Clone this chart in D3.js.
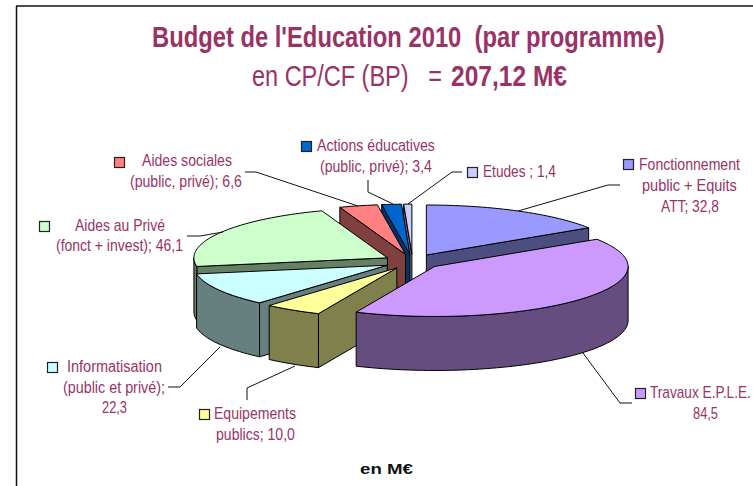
<!DOCTYPE html>
<html><head><meta charset="utf-8">
<script src="https://cdn.jsdelivr.net/npm/d3@7"></script>
<style>html,body{margin:0;padding:0;background:#fff}svg{display:block}text{font-family:"Liberation Sans",Arial,sans-serif;white-space:pre}</style>
</head><body><svg id="c" width="753" height="486"></svg>
<script>
const categories = ["Fonctionnement public + Equits ATT","Travaux E.P.L.E.","Equipements publics","Informatisation (public et privé)","Aides au Privé (fonct + invest)","Aides sociales (public, privé)","Actions éducatives (public, privé)","Etudes"];
const values = [32.8,84.5,10.0,22.3,46.1,6.6,3.4,1.4];
const topColors = ["#9999FF","#CC99FF","#FFFF99","#CCFFFF","#CCFFCC","#FF8080","#0066CC","#CCCCFF"];
const sideColors = ["#4D4D80","#664D80","#80804D","#668080","#668066","#804040","#003366","#666680"];
const paintOrder = [7,6,5,0,4,3,2,1];
const labelLines = [
 ["Fonctionnement","public + Equits","ATT; 32,8"],
 ["Travaux E.P.L.E.","84,5"],
 ["Equipements","publics; 10,0"],
 ["Informatisation","(public et privé);","22,3"],
 ["Aides au Privé","(fonct + invest); 46,1"],
 ["Aides sociales","(public, privé); 6,6"],
 ["Actions éducatives","(public, privé); 3,4"],
 ["Etudes ; 1,4"]
];
const titleLine = "Budget de l'Education 2010  (par programme)";
const subtitleLight = "en CP/CF (BP)   =";
const subtitleBold = "207,12 M€";
const unitLabel = "en M€";

// layout (pixels), kept apart from the data
const labelLayout = [
 {sw:[623,159],lines:[[639,740,170],[642,737,191],[661,719,212]],leader:[[518,211],[608,185],[620,185]]},
 {sw:[635,388],lines:[[650,751,398],[693,718,419]],leader:[[583,353],[620,403],[632,403]]},
 {sw:[199,409],lines:[[214,296,419],[216,295,440]],leader:[[295,366],[247,388],[247,400]]},
 {sw:[47,362],lines:[[67,162,372],[63,165,393],[102,127,413]],leader:[[220,347],[180,387],[168,387]]},
 {sw:[39,221],lines:[[75,165,231],[56,183,251]],leader:[[223,232],[200,236],[187,236]]},
 {sw:[114,157],lines:[[142,232,166],[130,242,187]],leader:[[358,206],[256,172],[245,172]]},
 {sw:[301,141],lines:[[317,435,151],[320,432,172]],leader:[[393,204],[368,192],[368,180]]},
 {sw:[467,167],lines:[[483,556,177]],leader:[[408,204],[452,172],[462,172]]}
];
const TXT = "#993366";
const svg = d3.select("#c");

// frame
svg.append("line").attr("x1",16).attr("x2",753).attr("y1",6).attr("y2",6).attr("stroke","#111").attr("stroke-width",1.5);
svg.append("line").attr("x1",16.5).attr("x2",16.5).attr("y1",6).attr("y2",486).attr("stroke","#111").attr("stroke-width",1.5);

// pie geometry
const cx=412.5, cy=261.6, a=193.5, b=50, depth=54, explode=0.15;
const sx=d3.scaleLinear([-1,1],[cx-a,cx+a]);
const sy=d3.scaleLinear([-1,1],[cy-b,cy+b]);
const arcs=d3.pie().sort(null).value(d=>d)(values);
const line=d3.line();
const gPie=svg.append("g").attr("stroke","#000").attr("stroke-width",1).attr("stroke-linejoin","round");

function ring(d,t0,t1,h){
  const mid=(d.startAngle+d.endAngle)/2;
  const ox=explode*Math.sin(mid), oy=-explode*Math.cos(mid);
  const n=Math.max(2,Math.ceil(Math.abs(t1-t0)/0.03));
  return d3.range(n+1).map(i=>{
    const t=t0+(t1-t0)*i/n;
    return [sx(ox+Math.sin(t)),sy(oy-Math.cos(t))+h];
  });
}
function apex(d,h){
  const mid=(d.startAngle+d.endAngle)/2;
  return [sx(explode*Math.sin(mid)),sy(-explode*Math.cos(mid))+h];
}
paintOrder.forEach(i=>{
  const d=arcs[i], g=gPie.append("g");
  const s=d.startAngle, e=d.endAngle, P=Math.PI;
  const side=pts=>g.append("path").attr("d",line(pts)+"Z").attr("fill",sideColors[i]);
  if(s>P){
    const r=ring(d,s,s,0)[0];
    side([apex(d,0),r,[r[0],r[1]+depth],apex(d,depth)]);
  }
  if(e<P){
    const r=ring(d,e,e,0)[0];
    side([apex(d,0),r,[r[0],r[1]+depth],apex(d,depth)]);
  }
  const t0=Math.max(s,P/2), t1=Math.min(e,3*P/2);
  if(t1>t0){
    side(ring(d,t0,t1,0).concat(ring(d,t0,t1,depth).reverse()));
  }
  g.append("path").attr("d",line([apex(d,0)].concat(ring(d,s,e,0)))+"Z").attr("fill",topColors[i]);
});

// leaders
const gL=svg.append("g").attr("fill","none").attr("stroke","#111").attr("stroke-width",1);
labelLayout.forEach(l=>gL.append("path").attr("d",line(l.leader)));

// text squeezed horizontally to the reference's measured width
function fit(sel,x,y,w){
  const natural=sel.node().getComputedTextLength();
  sel.attr("transform",`translate(${x},${y}) scale(${w/natural},1)`);
  return sel;
}
labelLayout.forEach((l,i)=>{
  svg.append("rect").attr("x",l.sw[0]+.5).attr("y",l.sw[1]+.5).attr("width",10).attr("height",10)
     .attr("fill",topColors[i]).attr("stroke","#222").attr("stroke-width",1.2);
  l.lines.forEach((ln,j)=>{
    fit(svg.append("text").attr("font-size",16).attr("fill",TXT).text(labelLines[i][j]),ln[0],ln[2],ln[1]-ln[0]);
  });
});

// titles
fit(svg.append("text").attr("font-size",29).attr("font-weight","bold").attr("fill",TXT).text(titleLine),152,47,513);
fit(svg.append("text").attr("font-size",29).attr("fill",TXT).text(subtitleLight),252,86,190);
fit(svg.append("text").attr("font-size",29).attr("font-weight","bold").attr("fill",TXT).text(subtitleBold),451,86,116);
fit(svg.append("text").attr("font-size",15).attr("font-weight","bold").attr("fill","#111").text(unitLabel),360,474,53);
</script></body></html>
